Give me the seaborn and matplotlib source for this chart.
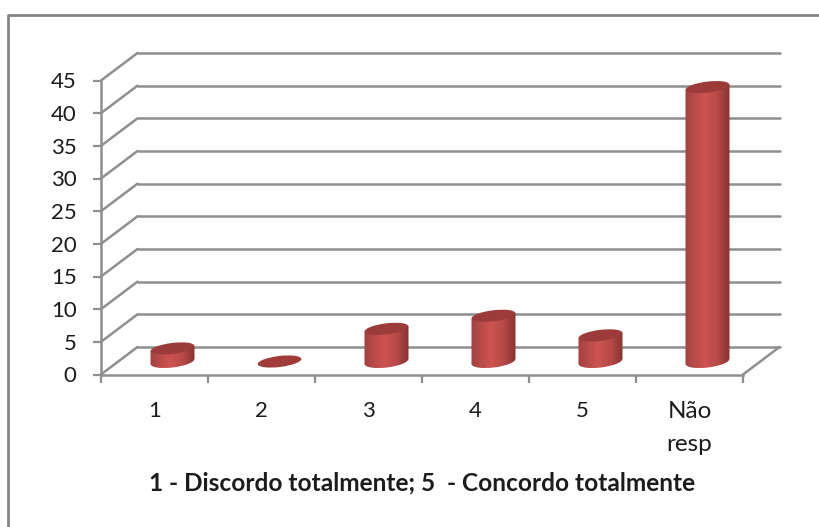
import numpy as np
import matplotlib
matplotlib.use("Agg")
import matplotlib.pyplot as plt
import pandas as pd
import seaborn as sns
from matplotlib.colors import LinearSegmentedColormap
from matplotlib.lines import Line2D
from matplotlib.patches import ConnectionPatch, Ellipse, Polygon
from matplotlib.transforms import IdentityTransform

categories = ["1", "2", "3", "4", "5", "Não\nresp"]
counts = [2, 0, 5, 7, 4, 42]
y_ticks = list(range(0, 50, 5))
caption = "1 - Discordo totalmente; 5  - Concordo totalmente"

GRID = "#8f8f8f"
TEXT = "#1c1c1c"
TOP = "#9b3c3b"
BASE_ONLY = "#a03b39"
SHADE = LinearSegmentedColormap.from_list(
    "cyl", [(0, "#a04241"), (0.22, "#b94b49"), (0.45, "#cd5351"),
            (0.72, "#b84a48"), (1, "#863332")])

sns.set_theme(style="white")
plt.rcParams["font.family"] = ["Lato", "DejaVu Sans"]

W, H = 820, 527
fig = plt.figure(figsize=(W / 100, H / 100), dpi=100, facecolor="white")


def box(left, bottom_y, width, height):
    return [left / W, 1 - bottom_y / H, width / W, height / H]


# Oblique projection: back wall, bar plane and front plane share one scale.
PLOT_W, PLOT_H = 642, 294
PX_PER_UNIT = PLOT_H / 45
FLOOR_MARGIN = 3  # room under the bar plane for the rounded cylinder bases
back = fig.add_axes(box(137.5, 347, PLOT_W, PLOT_H), zorder=0)
front = fig.add_axes(box(101, 374.5, PLOT_W, PLOT_H), zorder=1)
bars = fig.add_axes(box(119, 361.5 + FLOOR_MARGIN * PX_PER_UNIT, PLOT_W,
                        PLOT_H + FLOOR_MARGIN * PX_PER_UNIT), zorder=2)

xlim = (-0.5, 5.5)
ylim = (0, 45)
bar_ylim = (-FLOOR_MARGIN, 45)
for ax in (back, front):
    ax.set_xlim(*xlim)
    ax.set_ylim(*ylim)
    ax.patch.set_alpha(0)
bars.patch.set_alpha(0)

# Back wall grid
back.set_yticks(y_ticks)
back.set_xticks([])
back.tick_params(left=False, labelleft=False)
back.grid(axis="y", color=GRID, lw=1.8, clip_on=False)
back.set_axisbelow(True)
sns.despine(ax=back, left=True, bottom=True)

# Front plane: axes, ticks and labels
sns.despine(ax=front)
for side in ("left", "bottom"):
    front.spines[side].set_color(GRID)
    front.spines[side].set_linewidth(1.8)
front.set_yticks(y_ticks)
front.set_yticklabels([str(v) for v in y_ticks], fontsize=16, color=TEXT)
front.tick_params(axis="y", left=True, length=5.5, width=1.6, color=GRID, pad=12)
front.set_xticks(range(len(categories)))
front.set_xticklabels(categories, fontsize=16, color=TEXT, linespacing=1.71)
front.get_xticklabels()[-1].set_fontsize(17.5)
front.set_xticks(np.arange(-0.5, 6, 1), minor=True)
front.tick_params(axis="x", which="major", bottom=False, pad=13)
front.tick_params(axis="x", which="minor", bottom=True, length=6, width=1.6, color=GRID)
front.set_xlabel(caption, fontsize=17.6, fontweight="bold", color=TEXT, va="center")
front.xaxis.set_label_coords(0.5, -(483 - 374.5) / PLOT_H)

# Slanted gridlines joining the front plane to the back wall
for v in y_ticks:
    fig.add_artist(ConnectionPatch((-0.5, v), (-0.5, v), "data", "data",
                                   axesA=front, axesB=back, color=GRID, lw=1.8))
fig.add_artist(ConnectionPatch((5.5, 0), (5.5, 0), "data", "data",
                               axesA=front, axesB=back, color=GRID, lw=1.8))

# Cylinders: column bodies from seaborn, shaded and capped with tilted ellipses
data = pd.DataFrame({"categoria": categories, "valor": counts})
sns.barplot(data=data, x="categoria", y="valor", ax=bars, width=0.415,
            color=TOP, order=categories, saturation=1)
bars.set_xlim(*xlim)
bars.set_ylim(*bar_ylim)
bars.axis("off")

ramp = np.linspace(0, 1, 128).reshape(1, -1)
fig.canvas.draw()
ELL_W, ELL_H, TILT = 44, 12, 7
half_w = ELL_W / 2
rise = half_w * np.tan(np.radians(TILT))
columns = list(bars.patches)
for patch, value in zip(columns, counts):
    x0, w = patch.get_x(), patch.get_width()
    cx_data = x0 + w / 2
    cx, base_y = bars.transData.transform((cx_data, 0))
    _, top_y = bars.transData.transform((cx_data, value))
    patch.set_visible(False)
    if value > 0:
        # The sides follow the tilt of the end caps, so the body meets them cleanly.
        side = Polygon([(cx - half_w, base_y - rise), (cx + half_w, base_y + rise),
                        (cx + half_w, top_y + rise), (cx - half_w, top_y - rise)],
                       transform=IdentityTransform(), facecolor="none", edgecolor="none")
        base = Ellipse((cx, base_y), ELL_W, ELL_H, angle=TILT,
                       transform=IdentityTransform(), facecolor="none", edgecolor="none")
        bars.add_patch(side)
        bars.add_patch(base)
        for clip in (side, base):
            img = bars.imshow(ramp, extent=(x0, x0 + w, -FLOOR_MARGIN, value + 1), cmap=SHADE,
                              aspect="auto", zorder=2.5)
            img.set_clip_path(clip)
    color = TOP if value > 0 else BASE_ONLY
    bars.add_patch(Ellipse((cx, top_y), ELL_W, ELL_H - 1, angle=TILT,
                           transform=IdentityTransform(), facecolor=color,
                           edgecolor="none", zorder=3))
bars.set_xlim(*xlim)
bars.set_ylim(*bar_ylim)

# Chart area border: the left and top edges stay within the canvas
fig.add_artist(Line2D([8 / W, 8 / W, 1], [0, 1 - 15 / H, 1 - 15 / H],
                      transform=fig.transFigure, color="#858585", lw=2))

fig.savefig("out.png", dpi=100, facecolor="white")
